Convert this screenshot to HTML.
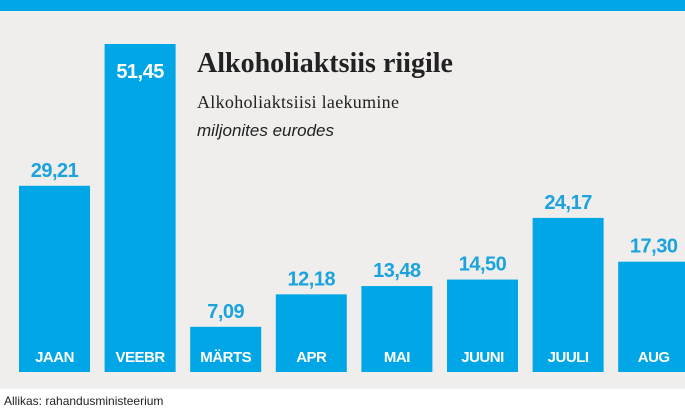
<!DOCTYPE html>
<html><head><meta charset="utf-8"><style>
body{margin:0;width:685px;height:410px;overflow:hidden;background:#fff;font-family:"Liberation Sans",sans-serif}
#bg{position:absolute;left:0;top:0;width:685px;height:389px;background:#efeeec}
#band{position:absolute;left:0;top:0;width:685px;height:11px;background:#00a6e6}
svg{position:absolute;left:0;top:0}
</style></head><body>
<div id="bg"></div>
<div id="band"></div>
<svg width="685" height="410">
<text x="197" y="72" font-family="Liberation Serif,serif" font-weight="bold" font-size="28" fill="#222">Alkoholiaktsiis riigile</text>
<text x="197" y="108" font-family="Liberation Serif,serif" font-size="18" fill="#222" letter-spacing="0.3">Alkoholiaktsiisi laekumine</text>
<text x="197" y="136" font-style="italic" font-size="17" fill="#222">miljonites eurodes</text>
<text x="4" y="405" font-size="12" fill="#222">Allikas: rahandusministeerium</text>
<g id="bars"></g>
</svg>
<script>
const categories=["JAAN","VEEBR","MÄRTS","APR","MAI","JUUNI","JUULI","AUG"];
const values=[29.21,51.45,7.09,12.18,13.48,14.50,24.17,17.30];
const labels=["29,21","51,45","7,09","12,18","13,48","14,50","24,17","17,30"];
const base=372, top0=44, maxV=Math.max(...values);
const y=v=>base-(v/maxV)*(base-top0);
const x=i=>19+i*85.6;
const g=document.getElementById('bars');
const NS='http://www.w3.org/2000/svg';
categories.forEach((c,i)=>{
  const r=document.createElementNS(NS,'rect');
  r.setAttribute('x',x(i));r.setAttribute('y',y(values[i]));
  r.setAttribute('width',71);r.setAttribute('height',base-y(values[i]));
  r.setAttribute('fill','#00a6e6');
  
  
  g.appendChild(r);
  const m=document.createElementNS(NS,'text');
  m.setAttribute('x',x(i)+35.5);m.setAttribute('y',362);m.setAttribute('text-anchor','middle');
  m.setAttribute('font-size','15');m.setAttribute('font-weight','bold');m.setAttribute('fill','#fff');
  m.setAttribute('letter-spacing','-0.5');
  m.textContent=c;
  
  
  g.appendChild(m);
  const inside=i===1;
  const t=document.createElementNS(NS,'text');
  t.setAttribute('x',x(i)+35.5);
  t.setAttribute('y',inside?y(values[i])+34:y(values[i])-9);
  t.setAttribute('text-anchor','middle');t.setAttribute('font-size','20');t.setAttribute('font-weight','bold');
  t.setAttribute('fill',inside?'#fff':'#1aa3dd');t.setAttribute('letter-spacing','-0.5');
  t.textContent=labels[i];
  
  
  g.appendChild(t);
});
</script>
</body></html>
